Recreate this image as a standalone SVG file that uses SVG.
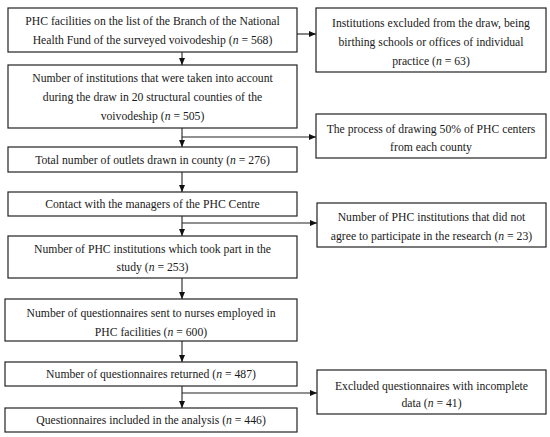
<svg xmlns="http://www.w3.org/2000/svg" width="550" height="437" viewBox="0 0 550 437">
<defs>
<style>
.box{fill:#fff;stroke:#222;stroke-width:1.2}
.t{font-family:"Liberation Serif","Times New Roman",serif;font-size:11.7px;fill:#1a1a1a;text-anchor:middle}
.c{fill:none;stroke:#222;stroke-width:1.1}
</style>
<marker id="ah" markerWidth="7" markerHeight="6" refX="7" refY="3" orient="auto" markerUnits="userSpaceOnUse">
<path d="M0,0 L7,3 L0,6 Z" fill="#111"/>
</marker>
</defs>
<rect width="550" height="437" fill="#fff"/>
<g id="connectors">
<path class="c" d="M182,52 V65" marker-end="url(#ah)"/>
<path class="c" d="M297,34 H316" marker-end="url(#ah)"/>
<path class="c" d="M182,128 V147" marker-end="url(#ah)"/>
<path class="c" d="M182,137 H316" marker-end="url(#ah)"/>
<path class="c" d="M182,172 V192" marker-end="url(#ah)"/>
<path class="c" d="M182,216 V236" marker-end="url(#ah)"/>
<path class="c" d="M182,223 H317" marker-end="url(#ah)"/>
<path class="c" d="M182,278 V299" marker-end="url(#ah)"/>
<path class="c" d="M182,341 V362" marker-end="url(#ah)"/>
<path class="c" d="M182,386 V408" marker-end="url(#ah)"/>
<path class="c" d="M182,393 H317" marker-end="url(#ah)"/>
</g>
<g id="n1">
<rect class="box" x="8" y="8" width="289" height="44"/>
<text class="t" x="152.5" y="25">PHC facilities on the list of the Branch of the National</text>
<text class="t" x="152.5" y="44">Health Fund of the surveyed voivodeship (<tspan font-style="italic">n</tspan> = 568)</text>
</g>
<g id="n2">
<rect class="box" x="8" y="65" width="289" height="63"/>
<text class="t" x="152.5" y="82">Number of institutions that were taken into account</text>
<text class="t" x="152.5" y="101">during the draw in 20 structural counties of the</text>
<text class="t" x="152.5" y="120">voivodeship (<tspan font-style="italic">n</tspan> = 505)</text>
</g>
<g id="n3">
<rect class="box" x="8" y="147" width="289" height="25"/>
<text class="t" x="152.5" y="164">Total number of outlets drawn in county (<tspan font-style="italic">n</tspan> = 276)</text>
</g>
<g id="n4">
<rect class="box" x="8" y="192" width="289" height="24"/>
<text class="t" x="152.5" y="208">Contact with the managers of the PHC Centre</text>
</g>
<g id="n5">
<rect class="box" x="8" y="236" width="289" height="42"/>
<text class="t" x="152.5" y="253">Number of PHC institutions which took part in the</text>
<text class="t" x="152.5" y="271">study (<tspan font-style="italic">n</tspan> = 253)</text>
</g>
<g id="n6">
<rect class="box" x="5" y="299" width="292" height="42"/>
<text class="t" x="151" y="317">Number of questionnaires sent to nurses employed in</text>
<text class="t" x="151" y="336">PHC facilities (<tspan font-style="italic">n</tspan> = 600)</text>
</g>
<g id="n7">
<rect class="box" x="5" y="362" width="292" height="24"/>
<text class="t" x="151" y="378">Number of questionnaires returned (<tspan font-style="italic">n</tspan> = 487)</text>
</g>
<g id="n8">
<rect class="box" x="5" y="408" width="292" height="24"/>
<text class="t" x="151" y="424">Questionnaires included in the analysis (<tspan font-style="italic">n</tspan> = 446)</text>
</g>
<g id="r1">
<rect class="box" x="316" y="8" width="230" height="64"/>
<text class="t" x="431" y="27">Institutions excluded from the draw, being</text>
<text class="t" x="431" y="46">birthing schools or offices of individual</text>
<text class="t" x="431" y="65">practice (<tspan font-style="italic">n</tspan> = 63)</text>
</g>
<g id="r2">
<rect class="box" x="316" y="114" width="230" height="44"/>
<text class="t" x="431" y="133">The process of drawing 50% of PHC centers</text>
<text class="t" x="431" y="151">from each county</text>
</g>
<g id="r3">
<rect class="box" x="317" y="203" width="229" height="44"/>
<text class="t" x="431.5" y="221">Number of PHC institutions that did not</text>
<text class="t" x="431.5" y="240">agree to participate in the research (<tspan font-style="italic">n</tspan> = 23)</text>
</g>
<g id="r4">
<rect class="box" x="317" y="370" width="229" height="44"/>
<text class="t" x="431.5" y="390">Excluded questionnaires with incomplete</text>
<text class="t" x="431.5" y="407">data (<tspan font-style="italic">n</tspan> = 41)</text>
</g>
</svg>
